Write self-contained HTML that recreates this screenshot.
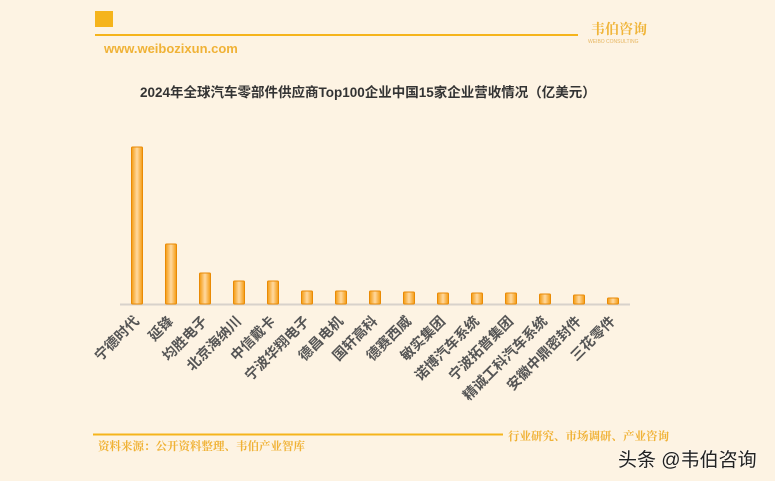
<!DOCTYPE html><html><head><meta charset="utf-8"><style>
body{margin:0;width:775px;height:481px;background:#FDF3E3;overflow:hidden;position:relative;font-family:"Liberation Sans","Noto Sans CJK SC",sans-serif}
.a{position:absolute;white-space:nowrap}
</style></head><body>
<div class="a" style="left:95px;top:11px;width:18px;height:16px;background:#F5B41C"></div>
<div class="a" style="left:95px;top:34px;width:483px;height:2px;background:#F5B41C"></div>
<div class="a" style="left:591px;top:19px;font-size:14px;font-weight:bold;color:#F0B53A;font-family:'Noto Serif CJK SC',serif">韦伯咨询</div>
<div class="a" style="left:588px;top:39px;font-size:5px;color:#E7B660">WEIBO CONSULTING</div>
<div class="a" style="left:104px;top:41px;font-size:13px;font-weight:bold;color:#F0B236">www.weibozixun.com</div>
<div class="a" style="left:140px;top:81px;font-size:13.5px;font-weight:bold;color:#333">2024年全球汽车零部件供应商Top100企业中国15家企业营收情况（亿美元）</div>
<svg class="a" style="left:0;top:0" width="775" height="481">
<defs><linearGradient id="g" x1="0" x2="1"><stop offset="0" stop-color="#F49A10"/><stop offset="0.5" stop-color="#FFD9A0"/><stop offset="1" stop-color="#F49A10"/></linearGradient></defs>
<line x1="120" y1="304.5" x2="630" y2="304.5" stroke="#D8D2CB" stroke-width="2"/>
<g fill="url(#g)" stroke="#E98A05" stroke-width="1">
<rect x="131.5" y="147" width="11" height="157" rx="1"/>
<rect x="165.5" y="244" width="11" height="60" rx="1"/>
<rect x="199.5" y="273" width="11" height="31" rx="1"/>
<rect x="233.5" y="281" width="11" height="23" rx="1"/>
<rect x="267.5" y="281" width="11" height="23" rx="1"/>
<rect x="301.5" y="291" width="11" height="13" rx="1"/>
<rect x="335.5" y="291" width="11" height="13" rx="1"/>
<rect x="369.5" y="291" width="11" height="13" rx="1"/>
<rect x="403.5" y="292" width="11" height="12" rx="1"/>
<rect x="437.5" y="293" width="11" height="11" rx="1"/>
<rect x="471.5" y="293" width="11" height="11" rx="1"/>
<rect x="505.5" y="293" width="11" height="11" rx="1"/>
<rect x="539.5" y="294" width="11" height="10" rx="1"/>
<rect x="573.5" y="295" width="11" height="9" rx="1"/>
<rect x="607.5" y="298" width="11" height="6" rx="1"/>
</g>
<g font-size="14" font-weight="bold" fill="#555" text-anchor="end" font-family="Liberation Sans,Noto Sans CJK SC,sans-serif">
<text transform="translate(140,322) rotate(-45)">宁德时代</text>
<text transform="translate(174,322) rotate(-45)">延锋</text>
<text transform="translate(208,322) rotate(-45)">均胜电子</text>
<text transform="translate(242,322) rotate(-45)">北京海纳川</text>
<text transform="translate(276,322) rotate(-45)">中信戴卡</text>
<text transform="translate(310,322) rotate(-45)">宁波华翔电子</text>
<text transform="translate(344,322) rotate(-45)">德昌电机</text>
<text transform="translate(378,322) rotate(-45)">国轩高科</text>
<text transform="translate(412,322) rotate(-45)">德赛西威</text>
<text transform="translate(446,322) rotate(-45)">敏实集团</text>
<text transform="translate(480,322) rotate(-45)">诺博汽车系统</text>
<text transform="translate(514,322) rotate(-45)">宁波拓普集团</text>
<text transform="translate(548,322) rotate(-45)">精诚工科汽车系统</text>
<text transform="translate(582,322) rotate(-45)">安徽中鼎密封件</text>
<text transform="translate(616,322) rotate(-45)">三花零件</text>
</g>
<line x1="93" y1="434.5" x2="503" y2="434.5" stroke="#F5B41C" stroke-width="2"/>
</svg>
<div class="a" style="left:508px;top:428px;font-size:11.5px;font-weight:bold;color:#F0B236;font-family:'Noto Serif CJK SC',serif">行业研究、市场调研、产业咨询</div>
<div class="a" style="left:98px;top:438px;font-size:11.5px;font-weight:bold;color:#F0B236;font-family:'Noto Serif CJK SC',serif">资料来源：公开资料整理、韦伯产业智库</div>
<div class="a" style="left:618px;top:445px;font-size:19px;color:#222;text-shadow:0 0 2px #fff">头条 @韦伯咨询</div>
</body></html>
